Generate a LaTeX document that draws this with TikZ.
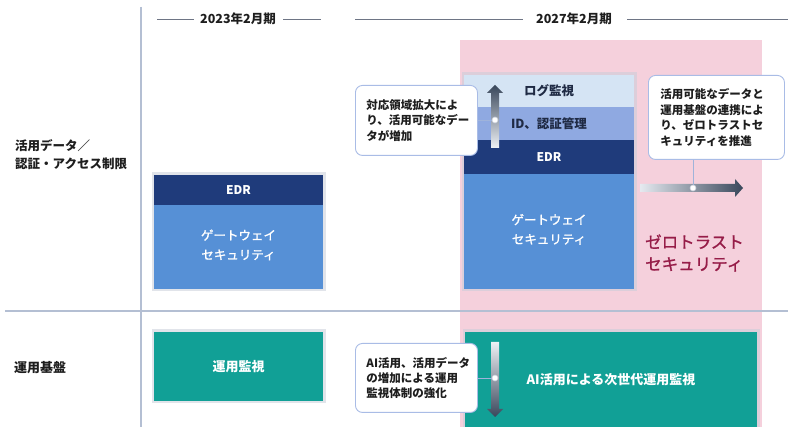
\documentclass[tikz,border=0pt]{standalone}
\usepackage{fontspec}
\setmainfont{Noto Sans CJK JP}
\newfontfamily\jpmed{Noto Sans CJK JP}[FakeBold=1.2]
\usetikzlibrary{arrows.meta}
\definecolor{navy}{HTML}{1F3B7B}
\definecolor{gwblue}{HTML}{5690D6}
\definecolor{logc}{HTML}{D5E4F4}
\definecolor{idc}{HTML}{8FA9E1}
\definecolor{teal}{HTML}{11A096}
\definecolor{pinkzone}{HTML}{F5D0DC}
\definecolor{crimson}{HTML}{961C48}
\definecolor{gridc}{HTML}{B4BFD3}
\definecolor{hlinec}{HTML}{6E7585}
\definecolor{txt}{HTML}{1E1E1E}
\definecolor{stacktxt}{HTML}{1F2A44}
\definecolor{callb}{HTML}{A9BCE6}
\definecolor{connc}{HTML}{9FB3DA}
\definecolor{arrdark}{HTML}{39475B}
\definecolor{arrlight}{HTML}{EEF1F5}
\definecolor{shadowc}{HTML}{C9CEDA}
\begin{document}
\begin{tikzpicture}[x=1pt,y=-1pt,
  blk/.style={rectangle, inner sep=0pt, outer sep=0pt, anchor=north west, align=center, text=white},
  gwtext/.style={align=center, text=white, inner sep=0pt, font=\jpmed\fontsize{12.5}{19.5}\selectfont},
  callout/.style={rectangle, rounded corners=7pt, draw=callb, line width=0.9pt, fill=white,
     anchor=north west, align=left, inner xsep=11pt, inner ysep=0pt, text=txt,
     font=\bfseries\fontsize{11.5}{15.5}\selectfont},
  dotn/.style={circle, fill=white, draw=shadowc, line width=0.6pt, minimum size=6pt, inner sep=0pt},
  conn/.style={draw=connc, line width=0.9pt},
  gridline/.style={draw=gridc, line width=1.2pt},
  hline/.style={draw=hlinec, line width=0.9pt},
  head/.style={font=\bfseries\fontsize{12.5}{15}\selectfont, text=txt, inner sep=0pt},
  rowlab/.style={anchor=west, align=left, text=txt, inner sep=0pt},
  shadowbox/.style={fill=shadowc, opacity=0.55}
]
\useasboundingbox (0,0) rectangle (788,427);
\fill[white] (0,0) rectangle (788,427);

% pink zone
\fill[pinkzone] (460,40) rectangle (762,427);

% grid
\coordinate (gv1) at (141,7);
\coordinate (gv2) at (141,427);
\coordinate (gh1) at (5,311);
\coordinate (gh2) at (788,311);
\draw[gridline] (gv1) -- (gv2);
\draw[gridline] (gh1) -- (gh2);

% headers
\node[head] (h1) at (238,19) {2023年2月期};
\coordinate (h1a) at (157,19); \coordinate (h1b) at (194,19);
\coordinate (h1c) at (283,19); \coordinate (h1d) at (321,19);
\draw[hline] (h1a) -- (h1b);
\draw[hline] (h1c) -- (h1d);
\node[head] (h2) at (574,19) {2027年2月期};
\coordinate (h2a) at (355,19); \coordinate (h2b) at (523,19);
\coordinate (h2c) at (627,19); \coordinate (h2d) at (788,19);
\draw[hline] (h2a) -- (h2b);
\draw[hline] (h2c) -- (h2d);

% row labels
\node[rowlab, font=\bfseries\fontsize{12.5}{18}\selectfont] (r1) at (15,155) {活用データ／\\認証・アクセス制限};
\node[rowlab, font=\bfseries\fontsize{13}{16}\selectfont] (r2) at (14,368) {運用基盤};

% shadows
\fill[shadowbox] (151.5,172.5) rectangle (325.5,291.5);
\fill[shadowbox] (151.5,329.5) rectangle (325.5,403.5);
\fill[shadowbox] (461.5,72.5) rectangle (636.5,291.5);
\fill[shadowbox] (462.5,329.5) rectangle (759.5,430);

% left column
\node[blk, fill=navy, minimum width=169pt, minimum height=30pt, font=\bfseries\fontsize{12}{14}\selectfont] (edrL) at (154,175) {EDR};
\node[blk, fill=gwblue, minimum width=169pt, minimum height=84pt] (gwL) at (154,205) {};
\node[gwtext] (gwLt) at ([yshift=2pt]gwL.center) {ゲートウェイ\\セキュリティ};
\node[blk, fill=teal, minimum width=169pt, minimum height=69pt, font=\bfseries\fontsize{13}{16}\selectfont] (opL) at (154,332) {運用監視};

% right stack
\node[blk, fill=logc, text=stacktxt, minimum width=170pt, minimum height=32pt, font=\bfseries\fontsize{12.5}{15}\selectfont] (log) at (464,75) {ログ監視};
\node[blk, fill=idc, text=stacktxt, minimum width=170pt, minimum height=33pt, font=\bfseries\fontsize{12.5}{15}\selectfont] (idm) at (464,107) {ID、認証管理};
\node[blk, fill=navy, minimum width=170pt, minimum height=34pt, font=\bfseries\fontsize{12}{14}\selectfont] (edrR) at (464,140) {EDR};
\node[blk, fill=gwblue, minimum width=170pt, minimum height=115pt] (gwR) at (464,174) {};
\node[gwtext] (gwRt) at ([yshift=2pt]gwR.center) {ゲートウェイ\\セキュリティ};
\node[blk, fill=teal, minimum width=292pt, minimum height=95pt, font=\bfseries\fontsize{13}{16}\selectfont] (opR) at (465,332) {AI活用による次世代運用監視};

% zero trust label
\node[rowlab, text=crimson, font=\jpmed\fontsize{16.5}{22}\selectfont] (zt) at (645,253) {ゼロトラスト\\セキュリティ};

% arrows
\shade[top color=arrdark, bottom color=arrlight] (491,148) -- (491,93) -- (487,93) -- (495,85) -- (503,93) -- (499,93) -- (499,148) -- cycle;
\shade[left color=arrlight!85!gridc, right color=arrdark] (640,184) -- (735,184) -- (735,179) -- (743,188) -- (735,197) -- (735,192) -- (640,192) -- cycle;
\shade[top color=arrlight, bottom color=arrdark] (491,342) -- (499,342) -- (499,409) -- (503,409) -- (495,417) -- (487,409) -- (491,409) -- cycle;

% callouts
\node[callout, minimum width=122pt, minimum height=70pt, text width=100pt] (c1) at (355,85) {対応領域拡大によ\\り、活用可能なデー\\タが増加};
\node[callout, minimum width=134pt, minimum height=84pt, text width=112pt, inner xsep=12pt] (c2) at (648,75) {活用可能なデータと\\運用基盤の連携によ\\り、ゼロトラストセ\\キュリティを推進};
\node[callout, minimum width=122pt, minimum height=69pt, text width=100pt, font=\bfseries\fontsize{11.5}{15}\selectfont] (c3) at (355,343) {AI活用、活用データ\\の増加による運用\\監視体制の強化};

% dots and connectors
\node[dotn] (d1) at (495,120) {};
\node[dotn] (d2) at (693,188) {};
\node[dotn] (d3) at (495,378) {};
\draw[conn] (c1.east |- d1) -- (d1);
\draw[conn] (c2.south -| d2) -- (d2);
\draw[conn] (c3.east |- d3) -- (d3);
\end{tikzpicture}
\end{document}
